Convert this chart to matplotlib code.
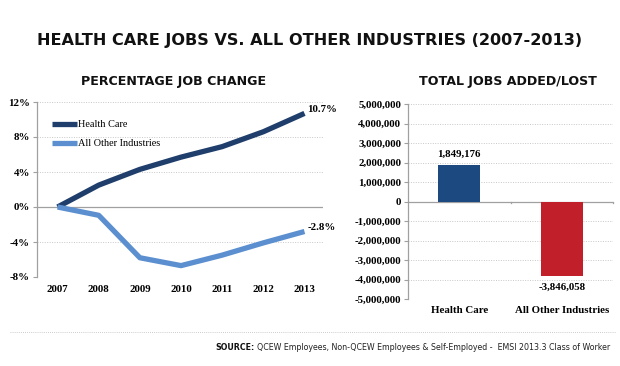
import matplotlib
matplotlib.use("Agg")
import matplotlib.pyplot as plt
from matplotlib.lines import Line2D
from matplotlib.ticker import FuncFormatter

years = [2007, 2008, 2009, 2010, 2011, 2012, 2013]
health_pct = [0.0, 2.5, 4.3, 5.7, 6.9, 8.6, 10.7]
other_pct = [0.0, -0.95, -5.8, -6.7, -5.5, -4.1, -2.8]
pct_ticks = [-8, -4, 0, 4, 8, 12]

bar_cats = ["Health Care", "All Other Industries"]
bar_vals = [1849176, -3846058]
bar_ticks = [-5000000, -4000000, -3000000, -2000000, -1000000, 0,
             1000000, 2000000, 3000000, 4000000, 5000000]

C_HEALTH_LINE = "#1f3e6b"
C_OTHER_LINE = "#5b8fcf"
C_HEALTH_BAR = "#1c4a80"
C_OTHER_BAR = "#c1202a"
GRID = "#c8c8c8"
AXC = "#a0a0a0"

SERIF = ["Liberation Serif", "DejaVu Serif"]
SANS = ["DejaVu Sans"]
LBL = 7.8

fig = plt.figure(figsize=(6.2, 3.66), dpi=100)
fig.patch.set_facecolor("white")

fig.text(0.5, 1 - 40 / 366, "HEALTH CARE JOBS VS. ALL OTHER INDUSTRIES (2007-2013)",
         ha="center", va="center", fontsize=11.6, fontweight="bold", family=SANS,
         color="#111111")
fig.text(174 / 620, 1 - 82 / 366, "PERCENTAGE JOB CHANGE", ha="center", va="center",
         fontsize=9.1, fontweight="bold", family=SANS, color="#111111")
fig.text(508 / 620, 1 - 82 / 366, "TOTAL JOBS ADDED/LOST", ha="center", va="center",
         fontsize=9.1, fontweight="bold", family=SANS, color="#111111")

# separator dotted line
fig.add_artist(Line2D([10 / 620, 615 / 620], [1 - 332 / 366, 1 - 332 / 366],
                      transform=fig.transFigure, color="#bbbbbb", lw=0.6,
                      linestyle=(0, (1, 1.5))))
t1 = fig.text(610 / 620, 1 - 348 / 366,
              "QCEW Employees, Non-QCEW Employees & Self-Employed -  EMSI 2013.3 Class of Worker",
              ha="right", va="center", fontsize=5.7, family=SANS, color="#222222")
fig.canvas.draw()
bb = t1.get_window_extent()
fig.text(bb.x0 / 620 - 0.004, 1 - 348 / 366, "SOURCE:", ha="right", va="center",
         fontsize=5.7, fontweight="bold", family=SANS, color="#111111")

# ---- left line chart
ax = fig.add_axes([37 / 620, 1 - 277 / 366, 286 / 620, 175 / 366])
ax.plot(years, health_pct, color=C_HEALTH_LINE, lw=3.8, solid_capstyle="butt",
        label="Health Care", zorder=3)
ax.plot(years, other_pct, color=C_OTHER_LINE, lw=3.8, solid_capstyle="butt",
        label="All Other Industries", zorder=3)
ax.set_xlim(2006.5, 2013.45)
ax.set_ylim(-8, 12)
ax.set_yticks(pct_ticks)
ax.set_yticklabels([f"{t}%" for t in pct_ticks])
ax.set_xticks(years)
ax.set_xticklabels([str(y) for y in years])
for t in pct_ticks:
    if t != 0:
        ax.axhline(t, color=GRID, lw=0.7, linestyle=(0, (1, 1.5)), zorder=1)
ax.axhline(0, color=AXC, lw=0.9, zorder=2)
for s in ["top", "right", "bottom"]:
    ax.spines[s].set_visible(False)
ax.spines["left"].set_color(AXC)
ax.spines["left"].set_linewidth(0.9)
ax.tick_params(axis="y", length=3, color=AXC, pad=2, labelsize=LBL)
ax.tick_params(axis="x", length=0, pad=6, labelsize=LBL)
for lab in ax.get_xticklabels() + ax.get_yticklabels():
    lab.set_family(SERIF)
    lab.set_fontweight("bold")
ax.annotate(f"{health_pct[-1]}%", (years[-1], health_pct[-1]), xytext=(2, 3),
            textcoords="offset points", fontsize=LBL, fontweight="bold", family=SERIF,
            ha="left", va="center")
ax.annotate(f"{other_pct[-1]}%", (years[-1], other_pct[-1]), xytext=(2, 3),
            textcoords="offset points", fontsize=LBL, fontweight="bold", family=SERIF,
            ha="left", va="center")
leg = ax.legend(loc="upper left", bbox_to_anchor=(0.038, 0.92), frameon=False,
                prop={"family": SERIF, "size": 7.4}, handlelength=2.4,
                handletextpad=0.15, labelspacing=0.95, borderaxespad=0)

# ---- right bar chart
bx = fig.add_axes([408 / 620, 1 - 299 / 366, 205 / 620, 195 / 366])
xpos = list(range(len(bar_cats)))
bx.bar(xpos, bar_vals, width=0.41, color=[C_HEALTH_BAR, C_OTHER_BAR], zorder=3)
bx.set_xlim(-0.5, 1.5)
bx.set_ylim(-5000000, 5000000)
bx.set_yticks(bar_ticks)
bx.yaxis.set_major_formatter(FuncFormatter(lambda v, p: f"{int(v):,}"))
bx.set_xticks(xpos)
bx.set_xticklabels(bar_cats)
for t in bar_ticks:
    if t != 0:
        bx.axhline(t, color=GRID, lw=0.7, linestyle=(0, (1, 1.5)), zorder=1)
bx.axhline(0, color=AXC, lw=0.9, zorder=2)
for xb in [0.5, 1.5]:
    bx.plot([xb, xb], [0, -80000], color=AXC, lw=0.9, clip_on=False, zorder=2)
for s in ["top", "right", "bottom"]:
    bx.spines[s].set_visible(False)
bx.spines["left"].set_color(AXC)
bx.spines["left"].set_linewidth(0.9)
bx.tick_params(axis="y", length=3, color=AXC, pad=2, labelsize=LBL)
bx.tick_params(axis="x", length=0, pad=5, labelsize=LBL)
for lab in bx.get_xticklabels() + bx.get_yticklabels():
    lab.set_family(SERIF)
    lab.set_fontweight("bold")
for xp, v in zip(xpos, bar_vals):
    bx.annotate(f"{v:,}", (xp, v), xytext=(0, 8 if v > 0 else -8),
                textcoords="offset points", ha="center",
                va="center", fontsize=LBL, fontweight="bold", family=SERIF)

fig.savefig("out.png", dpi=100, facecolor="white")
